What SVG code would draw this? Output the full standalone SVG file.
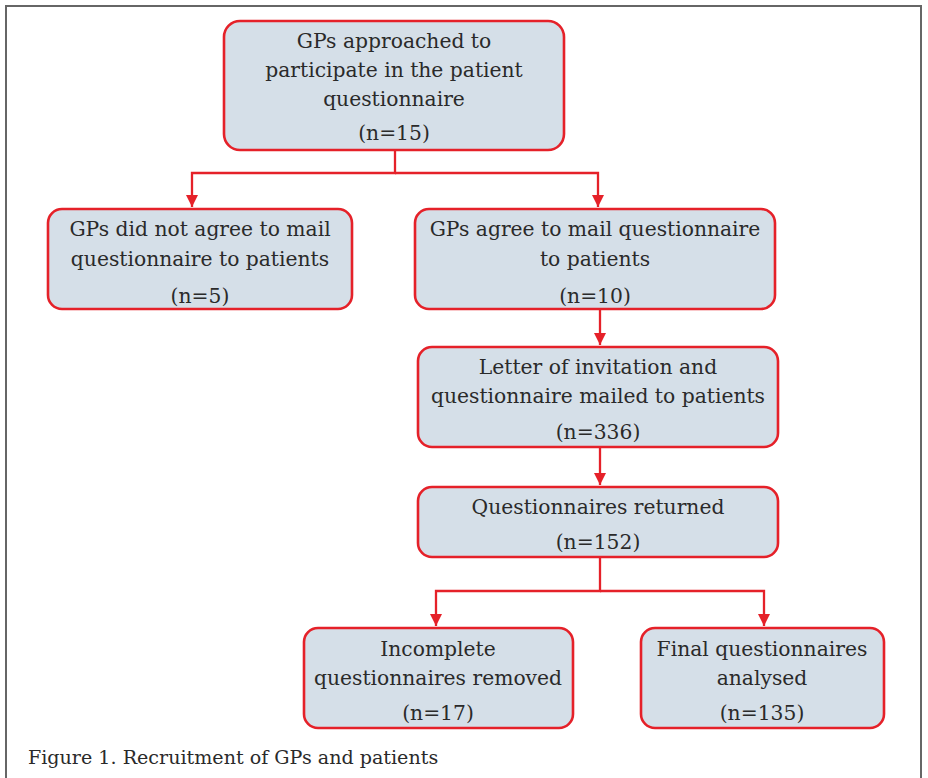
<svg xmlns="http://www.w3.org/2000/svg" width="928" height="778" viewBox="0 0 928 778">
<style>
.box{fill:#d5dfe8;stroke:#e52129;stroke-width:2.6}
.t{font-family:"DejaVu Serif","Liberation Serif",serif;font-size:20.3px;fill:#2a2a2a;text-anchor:middle}
.c{fill:none;stroke:#e52129;stroke-width:2.3}
.cap{font-family:"DejaVu Serif","Liberation Serif",serif;font-size:19.1px;fill:#2a2a2a}
</style>
<defs>
<marker id="ah" markerWidth="12" markerHeight="12" refX="10" refY="5" orient="auto" markerUnits="userSpaceOnUse" viewBox="0 0 10 10">
<path d="M0,0 L10,5 L0,10 Z" fill="#e52129"/>
</marker>
</defs>
<rect x="0" y="0" width="928" height="778" fill="#ffffff"/>
<rect x="6" y="6" width="915" height="800" fill="none" stroke="#666" stroke-width="2"/>
<g id="connectors">
<path class="c" d="M395,151 V173 H192 V207" marker-end="url(#ah)"/>
<path class="c" d="M395,173 H598 V207" marker-end="url(#ah)"/>
<path class="c" d="M600,310 V345" marker-end="url(#ah)"/>
<path class="c" d="M600,448 V485" marker-end="url(#ah)"/>
<path class="c" d="M600,558 V591 H436 V626" marker-end="url(#ah)"/>
<path class="c" d="M600,591 H764 V626" marker-end="url(#ah)"/>
</g>
<g id="n1">
<rect class="box" x="224" y="21" width="340" height="129" rx="16"/>
<text class="t" x="394" y="48">GPs approached to</text>
<text class="t" x="394" y="77">participate in the patient</text>
<text class="t" x="394" y="106">questionnaire</text>
<text class="t" x="394" y="140">(n=15)</text>
</g>
<g id="n2">
<rect class="box" x="48" y="209" width="304" height="100" rx="14"/>
<text class="t" x="200" y="236">GPs did not agree to mail</text>
<text class="t" x="200" y="266">questionnaire to patients</text>
<text class="t" x="200" y="303">(n=5)</text>
</g>
<g id="n3">
<rect class="box" x="415" y="209" width="360" height="100" rx="14"/>
<text class="t" x="595" y="236">GPs agree to mail questionnaire</text>
<text class="t" x="595" y="266">to patients</text>
<text class="t" x="595" y="303">(n=10)</text>
</g>
<g id="n4">
<rect class="box" x="418" y="347" width="360" height="100" rx="14"/>
<text class="t" x="598" y="374">Letter of invitation and</text>
<text class="t" x="598" y="403">questionnaire mailed to patients</text>
<text class="t" x="598" y="439">(n=336)</text>
</g>
<g id="n5">
<rect class="box" x="418" y="487" width="360" height="70" rx="14"/>
<text class="t" x="598" y="514">Questionnaires returned</text>
<text class="t" x="598" y="549">(n=152)</text>
</g>
<g id="n6">
<rect class="box" x="304" y="628" width="269" height="100" rx="14"/>
<text class="t" x="438" y="656">Incomplete</text>
<text class="t" x="438" y="685">questionnaires removed</text>
<text class="t" x="438" y="720">(n=17)</text>
</g>
<g id="n7">
<rect class="box" x="641" y="628" width="243" height="100" rx="14"/>
<text class="t" x="762" y="656">Final questionnaires</text>
<text class="t" x="762" y="685">analysed</text>
<text class="t" x="762" y="720">(n=135)</text>
</g>
<text class="cap" x="28" y="764">Figure 1. Recruitment of GPs and patients</text>
</svg>
